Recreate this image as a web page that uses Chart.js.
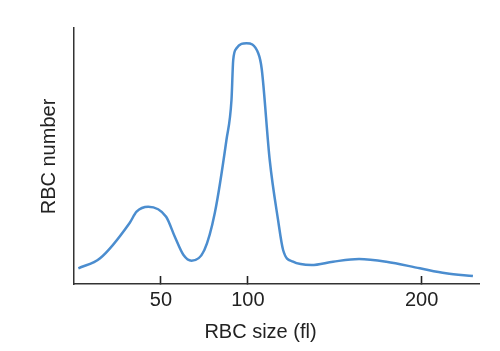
<!DOCTYPE html>
<html>
<head>
<meta charset="utf-8">
<script src="https://cdn.jsdelivr.net/npm/chart.js@4.4.1/dist/chart.umd.min.js"></script>
<style>
  html, body { margin: 0; padding: 0; background: #fff; }
  #wrap { width: 500px; height: 351px; position: relative; }
</style>
</head>
<body>
<div id="wrap"><canvas id="rbcChart"></canvas></div>
<script>
// RBC size (fl) vs relative count
const sizes = [2.5, 15, 32, 36, 42.7, 53, 58, 63, 67.6, 75, 81, 87.7, 90.6, 91.6, 93.5, 99.2, 106, 108, 112.6, 117.4, 120.3, 126, 136.6, 149, 164, 179.7, 199, 214, 229.5];
const counts = [15.7, 25.7, 61, 72.3, 77.3, 67.3, 47.3, 29, 23.3, 34, 71, 144, 184, 224, 235.7, 240.7, 230.7, 215, 124, 64, 34, 22.3, 19, 22.3, 25, 22.3, 15.7, 10.7, 8];
const tickVals = [50, 100, 200];
const xTitle = 'RBC size (fl)';
const yTitle = 'RBC number';

// titres des axes
const axisTitles = {
    id: 'axisTitles',
    afterDraw(chart) {
        const ctx = chart.ctx;
        ctx.save();
        ctx.fillStyle = '#222';
        ctx.font = '20px "Liberation Sans", Arial, sans-serif';
        ctx.textAlign = 'center';
        ctx.textBaseline = 'alphabetic';
        ctx.fillText(xTitle, 260.5, 338);
        ctx.translate(55, 156.5);
        ctx.rotate(-Math.PI / 2);
        ctx.fillText(yTitle, 0, 0);
        ctx.restore();
    }
};

const ctxRbc = document.getElementById('rbcChart').getContext('2d');
new Chart(ctxRbc, {
    type: 'line',
    data: {
        datasets: [{
            data: sizes.map((s, i) => ({ x: s, y: counts[i] })),
            borderColor: '#4b8dcf',
            borderWidth: 2.5,
            pointRadius: 0,
            fill: false,
            cubicInterpolationMode: 'monotone'
        }]
    },
    options: {
        responsive: true,
        maintainAspectRatio: false,
        animation: false,
        layout: { padding: { left: 74, right: 21, top: 28, bottom: 0 } },
        plugins: { legend: { display: false }, tooltip: { enabled: false } },
        scales: {
            x: {
                type: 'linear',
                min: 0,
                max: 233,
                // marques de graduation vers l'intérieur (tickLength négatif)
                grid: { display: true, drawOnChartArea: false, drawTicks: true, tickLength: -8, tickColor: '#222', tickWidth: 1.6 },
                border: { display: true, color: '#333', width: 1.5 },
                afterBuildTicks: scale => { scale.ticks = tickVals.map(v => ({ value: v })); },
                afterFit: scale => { scale.height = 67; },
                ticks: {
                    color: '#222',
                    padding: 12,
                    font: { family: '"Liberation Sans", Arial, sans-serif', size: 20 }
                }
            },
            y: {
                min: 0,
                max: 256,
                grid: { display: false },
                border: { display: true, color: '#333', width: 1.5 },
                ticks: { display: false },
                afterFit: scale => { scale.width = 0; }
            }
        }
    },
    plugins: [axisTitles]
});
</script>
</body>
</html>
